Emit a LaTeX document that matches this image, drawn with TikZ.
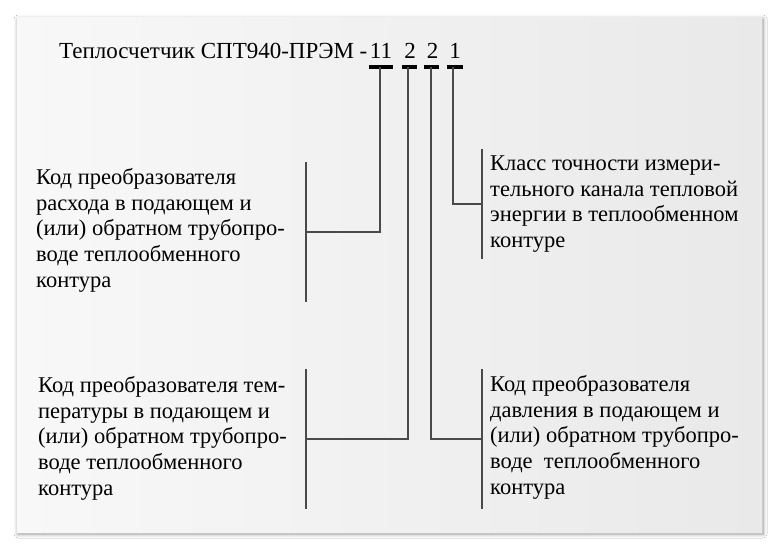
\documentclass[tikz,border=0pt]{standalone}
\usepackage{fontspec}
\setmainfont{Liberation Serif}
\usetikzlibrary{shadows.blur}
\definecolor{cardlight}{HTML}{F8F8F8}
\definecolor{carddark}{HTML}{E9E9E9}
\definecolor{wiregray}{HTML}{4A4A4A}
\tikzset{
  txt/.style={inner sep=0pt, align=left, font=\fontsize{22.5}{25.8}\selectfont},
  headtxt/.style={inner sep=0pt, font=\fontsize{23}{26}\selectfont},
  digit/.style={inner sep=0pt, font=\fontsize{23}{26}\selectfont},
  wire/.style={line width=1.2pt, color=wiregray},
  ubar/.style={line width=3.6pt, color=black}
}

\begin{document}
\begin{tikzpicture}[x=1pt, y=-1pt]
			%%%%% START %%%%%
			\useasboundingbox (0,0) rectangle (780,550);
			
			\fill[white] (0,0) rectangle (780,550);
			\shade[left color=cardlight, right color=carddark,
			  blur shadow={shadow blur steps=12, shadow xshift=1pt, shadow yshift=-2pt, shadow blur radius=4pt}]
			  (17,17) rectangle (762,532);
			
			\node[headtxt, anchor=base west] (title) at (59,58) {Теплосчетчик СПТ940-ПРЭМ -};
			\node[digit, anchor=base] (d1) at (381,58) {11};
			\node[digit, anchor=base] (d2) at (410,58) {2};
			\node[digit, anchor=base] (d3) at (432.5,58) {2};
			\node[digit, anchor=base] (d4) at (455,58) {1};
			
			\draw[ubar] (369,67) -- (393,67);
			\draw[ubar] (402,67) -- (417,67);
			\draw[ubar] (424,67) -- (439,67);
			\draw[ubar] (447,67) -- (463,67);
			
			\coordinate (u1) at (380,67);
			\coordinate (u2) at (408,67);
			\coordinate (u3) at (431,67);
			\coordinate (u4) at (453,67);
			
			\coordinate (k1) at (306,232);
			\coordinate (k2) at (482,204);
			\coordinate (k3) at (306,439);
			\coordinate (k4) at (482,439);
			
			\node[txt, anchor=north west] (flow) at (36,166) {\strut Код преобразователя\\расхода в подающем и\\(или) обратном трубопро-\\воде теплообменного\\контура};
			\node[txt, anchor=north west] (acc) at (490,152) {\strut Класс точности измери-\\тельного канала тепловой\\энергии в теплообменном\\контуре};
			\node[txt, anchor=north west] (temp) at (38,374) {\strut Код преобразователя тем-\\пературы в подающем и\\(или) обратном трубопро-\\воде теплообменного\\контура};
			\node[txt, anchor=north west] (pres) at (490,373) {\strut Код преобразователя\\давления в подающем и\\(или) обратном трубопро-\\воде~ теплообменного\\контура};
			
			\draw[wire] ([yshift=70pt]k1) -- ([yshift=-70pt]k1);
			\draw[wire] ([yshift=55pt]k2) -- ([yshift=-55pt]k2);
			\draw[wire] ([yshift=70pt]k3) -- ([yshift=-70pt]k3);
			\draw[wire] ([yshift=70pt]k4) -- ([yshift=-70pt]k4);
			
			\draw[wire] (u1) |- (k1);
			\draw[wire] (u4) |- (k2);
			\draw[wire] (u2) |- (k3);
			\draw[wire] (u3) |- (k4);
			
			%%%%% END %%%%%
\end{tikzpicture}
\end{document}
